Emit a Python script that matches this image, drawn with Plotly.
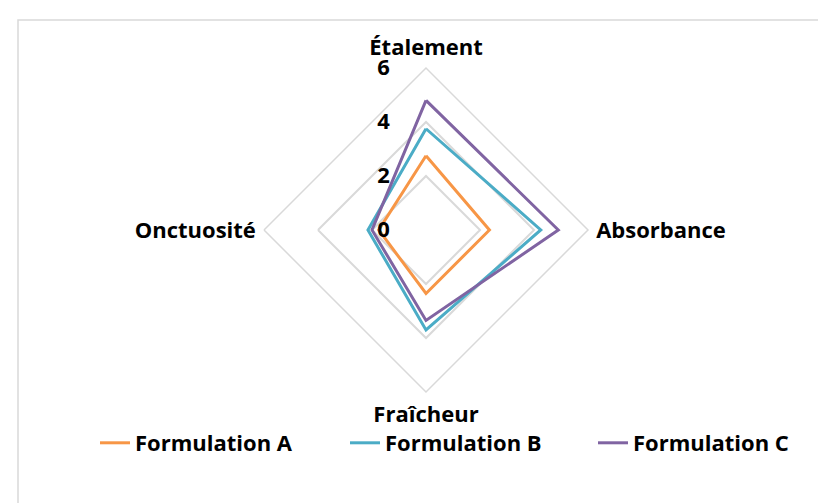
import plotly.graph_objects as go

criteria = ['Étalement', 'Absorbance', 'Fraîcheur', 'Onctuosité']
formulation_a = [2.75, 2.35, 2.35, 1.75]
formulation_b = [3.75, 4.25, 3.7, 2.15]
formulation_c = [4.8, 4.9, 3.35, 2.0]

series = [
    ('Formulation A', formulation_a, '#f79646'),
    ('Formulation B', formulation_b, '#4bacc6'),
    ('Formulation C', formulation_c, '#8064a2'),
]

W, H = 826, 503
cx, cy, R = 418, 222, 162

lab_font = dict(family='Open Sans, sans-serif', size=22, color='black', weight='bold')

fig = go.Figure()
legend_ids = ['legend', 'legend2', 'legend3']
legend_x = [87, 337, 585]
for (name, vals, col), lid in zip(series, legend_ids):
    fig.add_trace(go.Scatterpolar(
        r=vals + vals[:1], theta=criteria + criteria[:1],
        mode='lines', name=name, line=dict(color=col, width=3),
        legend=lid, showlegend=True,
    ))

legends = {}
for lid, lx in zip(legend_ids, legend_x):
    legends[lid] = dict(x=lx / W, y=(H - 435) / H, xanchor='left', yanchor='middle',
                        font=lab_font, bgcolor='rgba(0,0,0,0)', visible=True)

fig.update_layout(
    width=W, height=H,
    margin=dict(l=0, r=0, t=0, b=0),
    paper_bgcolor='white',
    showlegend=True,
    polar=dict(
        domain=dict(x=[(cx - R) / W, (cx + R) / W],
                    y=[(H - cy - R) / H, (H - cy + R) / H]),
        bgcolor='white',
        gridshape='linear',
        radialaxis=dict(range=[0, 6], tickvals=[0, 2, 4, 6], angle=90, tickangle=90,
                        side='counterclockwise', showline=False,
                        ticks='outside', ticklen=28, tickcolor='rgba(0,0,0,0)',
                        gridcolor='#d9d9d9', gridwidth=1.5, tickfont=lab_font),
        angularaxis=dict(direction='clockwise', rotation=90, showgrid=False,
                         linecolor='#d9d9d9', linewidth=1.5,
                         ticks='outside', ticklen=3, tickcolor='rgba(0,0,0,0)',
                         tickfont=lab_font),
    ),
    shapes=[dict(type='rect', xref='paper', yref='paper',
                 x0=10 / W, x1=1.05, y0=-0.05, y1=(H - 12) / H,
                 line=dict(color='#d9d9d9', width=1.5))],
    **legends,
)

fig.write_html('out.html')
